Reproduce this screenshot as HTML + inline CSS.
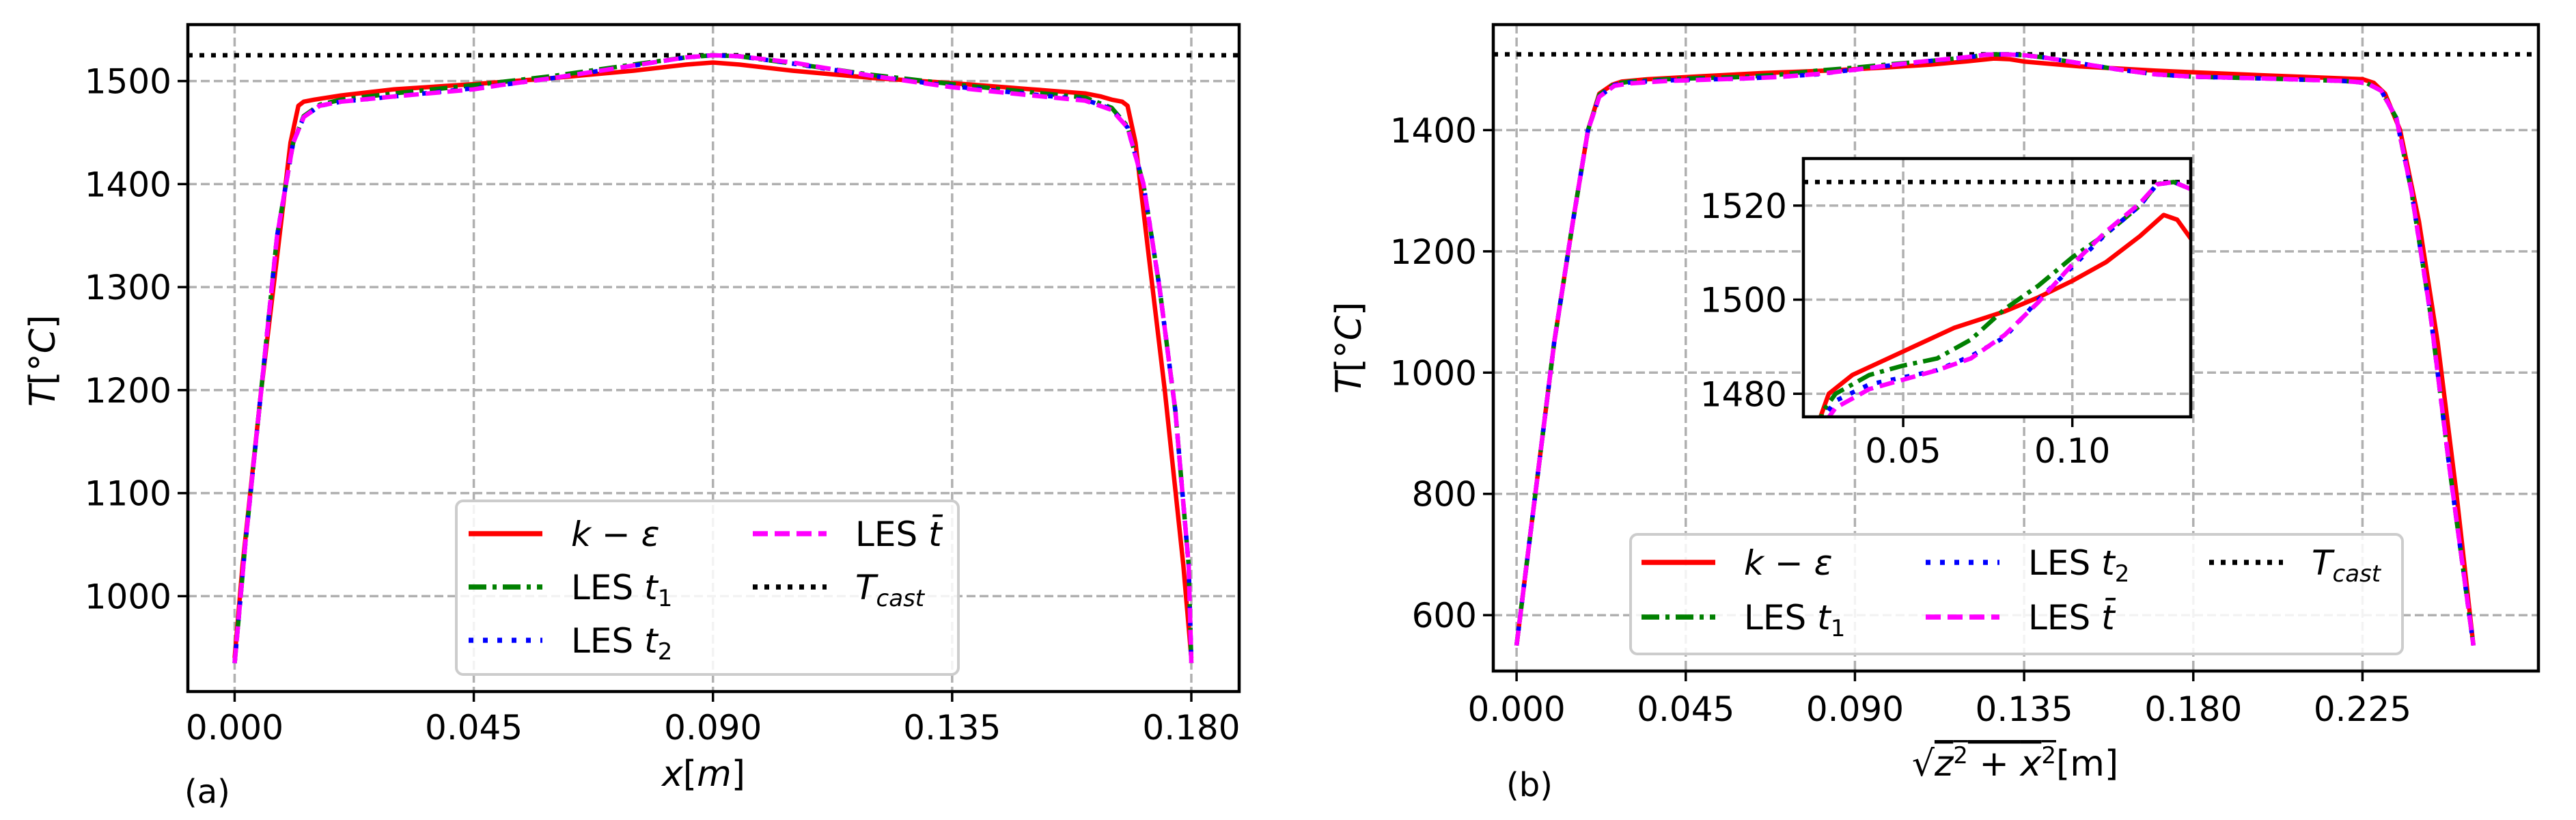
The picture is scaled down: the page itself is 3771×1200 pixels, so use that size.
<!DOCTYPE html>
<html><head><meta charset="utf-8">
<style>
html,body{margin:0;padding:0;background:#fff;overflow:hidden;width:3771px;height:1200px;}
svg{display:block;}
svg text{font-family:"DejaVu Sans","Liberation Sans",sans-serif;fill:#000;}
</style></head>
<body>
<svg id="fig" xmlns="http://www.w3.org/2000/svg" width="3771" height="1200" viewBox="0 0 3771 1200">
<rect width="3771" height="1200" fill="#fff"/>
</svg>
<script>
// ---------- data: panel (a) ----------
const aKepsX = [0,0.0015,0.005,0.008,0.0105,0.012,0.013,0.015,0.02,0.03,0.045,0.06,0.075,0.085,0.09,0.095,0.105,0.12,0.135,0.15,0.16,0.163,0.165,0.167,0.168,0.1695,0.172,0.175,0.1785,0.18];
const aKepsT = [940,1030,1200,1330,1440,1476,1480,1482,1486,1492,1497,1503,1510,1516,1518,1516,1510,1503,1498,1492,1488,1485,1482,1480,1476,1440,1330,1200,1030,940];
const aLesX = [0,0.002,0.005,0.008,0.011,0.013,0.016,0.02,0.03,0.045,0.05,0.06,0.075,0.085,0.09,0.095,0.105,0.12,0.135,0.15,0.16,0.165,0.168,0.171,0.174,0.177,0.1795,0.18];
const aT1 = [935,1050,1200,1350,1440,1466,1477,1482,1488,1496,1499,1505,1516,1523,1525,1524,1517,1506,1497,1489,1484,1474,1456,1400,1300,1180,1030,935];
const aT2 = [935,1050,1200,1350,1440,1465,1476,1480,1485,1493,1496,1503,1515,1523,1525,1524,1517,1505,1495,1487,1482,1473,1455,1400,1300,1180,1030,935];
const aTbar = [935,1050,1200,1350,1440,1465,1476,1480,1485,1492,1496,1503,1515,1523,1525,1524,1518,1505,1494,1486,1481,1472,1455,1400,1300,1180,1030,935];
const aTicksX = [0,0.045,0.09,0.135,0.18];
const aTickLabelsX = ["0.000","0.045","0.090","0.135","0.180"];
const aTicksY = [1000,1100,1200,1300,1400,1500];
// ---------- data: panel (b) ----------
const bKepsX = [0,0.005,0.01,0.015,0.019,0.022,0.0255,0.028,0.035,0.05,0.065,0.08,0.09,0.1,0.11,0.12,0.127,0.131,0.135,0.15,0.17,0.2,0.225,0.228,0.231,0.235,0.24,0.245,0.25,0.2545];
const bKepsT = [550,800,1050,1250,1400,1460,1475,1480,1484,1489,1494,1497.5,1500.5,1504,1508,1513.5,1518,1517,1513,1505,1498,1490,1484,1478,1460,1400,1250,1050,800,550];
const bLesX = [0,0.005,0.01,0.015,0.019,0.022,0.026,0.03,0.04,0.05,0.06,0.07,0.08,0.09,0.1,0.11,0.12,0.125,0.13,0.135,0.14,0.15,0.16,0.17,0.18,0.2,0.22,0.226,0.23,0.234,0.238,0.243,0.248,0.2545];
const bT1 = [550,800,1050,1250,1400,1458,1476,1480,1484,1486,1487.5,1491.5,1498,1503,1509,1514,1520,1524.6,1525,1523.5,1520,1510,1500,1492,1488,1485,1481,1478,1465,1420,1300,1100,850,550];
const bT2 = [550,800,1050,1250,1400,1455,1474.5,1478.5,1482,1483.5,1485,1488,1492,1500,1507,1514,1520,1524.5,1525,1523.5,1520,1510,1500,1492,1488,1485,1481,1478,1465,1420,1300,1100,850,550];
const bTbar = [550,800,1050,1250,1400,1455,1473,1477,1481,1483,1485,1487.5,1492.5,1499.5,1507.5,1514.5,1520.5,1524.5,1525,1523.5,1520,1510,1500,1492,1488,1485,1481,1478,1465,1420,1300,1100,850,550];
const bTicksX = [0,0.045,0.09,0.135,0.18,0.225];
const bTickLabelsX = ["0.000","0.045","0.090","0.135","0.180","0.225"];
const bTicksY = [600,800,1000,1200,1400];
const insetTicksX = [0.05,0.10];
const insetTickLabelsX = ["0.05","0.10"];
const insetTicksY = [1480,1500,1520];
const tCast = [1525];

const NS = "http://www.w3.org/2000/svg";
const fig = document.getElementById('fig');
function el(tag, attrs, parent){
  const e = document.createElementNS(NS, tag);
  for (const k in attrs) e.setAttribute(k, attrs[k]);
  (parent||fig).appendChild(e);
  return e;
}
function scale(d0,d1,r0,r1){ return v => r0 + (v-d0)/(d1-d0)*(r1-r0); }

const styles = {
  keps:{stroke:'#ff0000', dash:'', w:6.5},
  t1:{stroke:'#008000', dash:'26,9,6,9', w:6.5},
  t2:{stroke:'#0000ff', dash:'7,14', w:6.5},
  tbar:{stroke:'#ff00ff', dash:'22,10', w:6.5},
  cast:{stroke:'#000000', dash:'7,10', w:6.5}
};

function drawPanel(p){
  const g = el('g', {});
  
  
  const sx = scale(p.xd[0], p.xd[1], p.L, p.R);
  const sy = scale(p.yd[0], p.yd[1], p.B, p.T);
  const cid = p.name + '-clip';
  const cp = el('clipPath', {id: cid}, g);
  el('rect', {x:p.L, y:p.T, width:p.R-p.L, height:p.B-p.T}, cp);
  if (p.bg) el('rect', {x:p.L, y:p.T, width:p.R-p.L, height:p.B-p.T, fill:'#fff'}, g);
  p.ticksX.forEach((v,i)=>{
    const gl = el('line', {x1:sx(v), x2:sx(v), y1:p.T, y2:p.B, stroke:'#b0b0b0', 'stroke-width':3.5, 'stroke-dasharray':'13,6'}, g);
    
    
    el('line', {x1:sx(v), x2:sx(v), y1:p.B, y2:p.B+15, stroke:'#000', 'stroke-width':3.5}, g);
    const t = el('text', {x:sx(v), y:p.tickLabelY, 'font-size':p.fs, 'text-anchor':'middle'}, g);
    t.textContent = p.tickLabelsX[i];
    
    
  });
  p.ticksY.forEach(v=>{
    const gl = el('line', {x1:p.L, x2:p.R, y1:sy(v), y2:sy(v), stroke:'#b0b0b0', 'stroke-width':3.5, 'stroke-dasharray':'13,6'}, g);
    
    
    el('line', {x1:p.L-15, x2:p.L, y1:sy(v), y2:sy(v), stroke:'#000', 'stroke-width':3.5}, g);
    const t = el('text', {x:p.L-24, y:sy(v)+p.fs*0.36, 'font-size':p.fs, 'text-anchor':'end'}, g);
    t.textContent = String(v);
    
    
  });
  const lg = el('g', {'clip-path':'url(#'+cid+')'}, g);
  const c = el('line', {x1:p.L, x2:p.R, y1:sy(tCast[0]), y2:sy(tCast[0]), stroke:'#000', 'stroke-width':styles.cast.w, 'stroke-dasharray':styles.cast.dash}, lg);
  
  
  p.series.forEach(s=>{
    const st = styles[s.key];
    const pts = s.x.map((xv,i)=> sx(xv).toFixed(1)+','+sy(s.y[i]).toFixed(1)).join(' ');
    const pl = el('polyline', {points:pts, fill:'none', stroke:st.stroke, 'stroke-width':st.w, 'stroke-dasharray':st.dash, 'stroke-linejoin':'round'}, lg);
    
    
  });
  const fr = el('rect', {x:p.L, y:p.T, width:p.R-p.L, height:p.B-p.T, fill:'none', stroke:'#000', 'stroke-width':4.5}, g);
  
  
  return g;
}

function legend(box, entries, name){
  const g = el('g', {});
  
  
  el('rect', {x:box[0], y:box[1], width:box[2]-box[0], height:box[3]-box[1], rx:10, fill:'#fff', 'fill-opacity':0.85, stroke:'#cccccc', 'stroke-width':4}, g);
  entries.forEach(e=>{
    const st = styles[e.key];
    el('line', {x1:e.hx, x2:e.hx+108, y1:e.y, y2:e.y, stroke:st.stroke, 'stroke-width':st.w+1, 'stroke-dasharray':st.dash}, g);
    const t = el('text', {x:e.hx+150, y:e.y+18, 'font-size':50}, g);
    t.innerHTML = e.label;
    
    
  });
}

const keps = '<tspan font-style="italic">k</tspan> − <tspan font-style="italic">ε</tspan>';
const t1 = 'LES <tspan font-style="italic">t</tspan><tspan font-size="34" dy="10">1</tspan>';
const t2 = 'LES <tspan font-style="italic">t</tspan><tspan font-size="34" dy="10">2</tspan>';
const tb = 'LES <tspan font-style="italic">t̄</tspan>';
const tc = '<tspan font-style="italic">T</tspan><tspan font-style="italic" font-size="34" dy="10">cast</tspan>';

drawPanel({name:'panel-a', L:275, R:1814, T:36, B:1012, xd:[-0.0088,0.189], yd:[907.4,1554.8],
  ticksX:aTicksX, tickLabelsX:aTickLabelsX, ticksY:aTicksY, tickLabelY:1082, fs:50,
  series:[
    {key:'keps', name:'k-epsilon-line-a', x:aKepsX, y:aKepsT},
    {key:'t1', name:'les-t1-line-a', x:aLesX, y:aT1},
    {key:'t2', name:'les-t2-line-a', x:aLesX, y:aT2},
    {key:'tbar', name:'les-tbar-line-a', x:aLesX, y:aTbar}
  ]});
legend([668,733,1403,987], [
  {key:'keps', hx:686, y:781, label:keps},
  {key:'t1', hx:686, y:859, label:t1},
  {key:'t2', hx:686, y:937, label:t2},
  {key:'tbar', hx:1102, y:781, label:tb},
  {key:'cast', hx:1102, y:859, label:tc}
], 'legend-a');

drawPanel({name:'panel-b', L:2186, R:3716, T:36, B:982, xd:[-0.0062,0.2718], yd:[507.8,1574],
  ticksX:bTicksX, tickLabelsX:bTickLabelsX, ticksY:bTicksY, tickLabelY:1055, fs:50,
  series:[
    {key:'keps', name:'k-epsilon-line-b', x:bKepsX, y:bKepsT},
    {key:'t1', name:'les-t1-line-b', x:bLesX, y:bT1},
    {key:'t2', name:'les-t2-line-b', x:bLesX, y:bT2},
    {key:'tbar', name:'les-tbar-line-b', x:bLesX, y:bTbar}
  ]});
drawPanel({name:'inset-b', bg:true, L:2640, R:3207, T:232, B:610, xd:[0.0205,0.135], yd:[1475.1,1530],
  ticksX:insetTicksX, tickLabelsX:insetTickLabelsX, ticksY:insetTicksY, tickLabelY:677, fs:50,
  series:[
    {key:'keps', name:'k-epsilon-line-inset', x:bKepsX, y:bKepsT},
    {key:'t1', name:'les-t1-line-inset', x:bLesX, y:bT1},
    {key:'t2', name:'les-t2-line-inset', x:bLesX, y:bT2},
    {key:'tbar', name:'les-tbar-line-inset', x:bLesX, y:bTbar}
  ]});
legend([2387,782,3517,957], [
  {key:'keps', hx:2403, y:823, label:keps},
  {key:'t1', hx:2403, y:903, label:t1},
  {key:'t2', hx:2819, y:823, label:t2},
  {key:'tbar', hx:2819, y:903, label:tb},
  {key:'cast', hx:3234, y:823, label:tc}
], 'legend-b');

function txt(x,y,html,name,extra){
  const t = el('text', Object.assign({x:x,y:y,'font-size':52}, extra||{}));
  t.innerHTML = html;
  
  
  return t;
}
txt(0,0,'<tspan font-style="italic">T</tspan>[°<tspan font-style="italic">C</tspan>]','y-axis-title-a',{transform:'translate(80,528) rotate(-90)','text-anchor':'middle'});
txt(1030,1150,'<tspan font-style="italic">x</tspan>[<tspan font-style="italic">m</tspan>]','x-axis-title-a',{'text-anchor':'middle'});
txt(270,1175,'(a)','panel-label-a',{'font-size':48});
txt(0,0,'<tspan font-style="italic">T</tspan>[°<tspan font-style="italic">C</tspan>]','y-axis-title-b',{transform:'translate(1992,509) rotate(-90)','text-anchor':'middle'});
txt(2950,1135,'√<tspan text-decoration="overline"><tspan font-style="italic">z</tspan><tspan font-size="34" dy="-18">2</tspan><tspan dy="18"> + </tspan><tspan font-style="italic">x</tspan><tspan font-size="34" dy="-18">2</tspan></tspan><tspan dy="18">[m]</tspan>','x-axis-title-b',{'text-anchor':'middle'});
txt(2205,1165,'(b)','panel-label-b',{'font-size':48});
</script>
</body></html>
